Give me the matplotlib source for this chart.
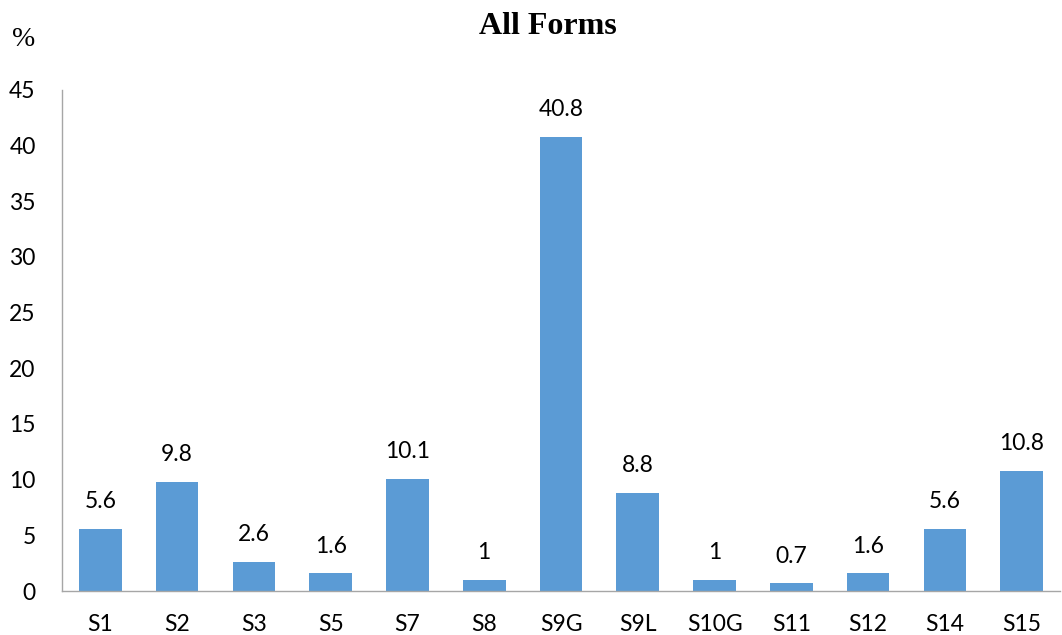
import matplotlib
matplotlib.use("Agg")
import matplotlib.pyplot as plt

categories = ["S1", "S2", "S3", "S5", "S7", "S8", "S9G", "S9L", "S10G", "S11", "S12", "S14", "S15"]
values = [5.6, 9.8, 2.6, 1.6, 10.1, 1, 40.8, 8.8, 1, 0.7, 1.6, 5.6, 10.8]
value_labels = ["5.6", "9.8", "2.6", "1.6", "10.1", "1", "40.8", "8.8", "1", "0.7", "1.6", "5.6", "10.8"]
y_ticks = [0, 5, 10, 15, 20, 25, 30, 35, 40, 45]

bar_color = "#5B9BD5"
axis_color = "#A6A6A6"
tick_font = "Lato"
serif_font = "Liberation Serif"
label_size = 16.5

fig = plt.figure(figsize=(10.62, 6.35), dpi=100)
ax = fig.add_axes([62 / 1062, 44 / 635, 998 / 1062, 501 / 635])

x = list(range(len(categories)))
ax.bar(x, values, width=0.556, color=bar_color, zorder=2)

for xi, v, lab in zip(x, values, value_labels):
    ax.annotate(lab, (xi, v), xytext=(0, 14.8), textcoords="offset points",
                ha="center", va="baseline", fontsize=label_size, family=tick_font)

ax.set_xlim(-0.5, len(categories) - 0.5)
ax.set_ylim(0, 45)
ax.set_yticks(y_ticks)
ax.set_yticklabels([str(t) for t in y_ticks], fontsize=label_size, family=tick_font)
ax.set_xticks(x)
ax.set_xticklabels(categories, fontsize=label_size, family=tick_font)
ax.tick_params(axis="y", length=0, pad=19)
ax.tick_params(axis="x", length=0, pad=16.5)

for side in ("top", "right"):
    ax.spines[side].set_visible(False)
ax.spines["left"].set_color(axis_color)
ax.spines["bottom"].set_color(axis_color)
ax.spines["left"].set_linewidth(1.0)
ax.spines["bottom"].set_linewidth(1.0)

fig.text(547.5 / 1062, 1 - 27 / 635, "All Forms", ha="center", va="center",
         fontsize=23, fontweight="bold", family=serif_font)
fig.text(24 / 1062, 1 - 39 / 635, "%", ha="center", va="center",
         fontsize=20, family=serif_font)

fig.savefig("out.png", dpi=100)
